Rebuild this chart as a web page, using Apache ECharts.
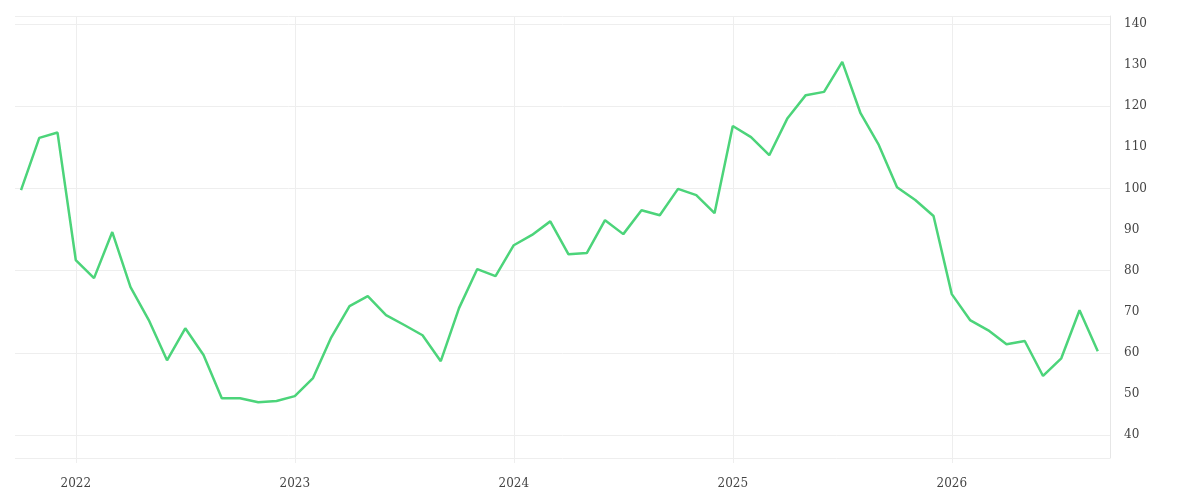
<!DOCTYPE html><html><head><meta charset="utf-8"><script src="https://cdn.jsdelivr.net/npm/echarts@6/dist/echarts.min.js"></script></head><body style="margin:0"><div id="c" style="width:1200px;height:500px"></div><script>
const startYear = 2021, startMonth = 10;
const values = [99.6,112.3,113.6,82.6,78.2,89.4,76,68,58.2,66,59.5,49,49,48,48.3,49.5,53.9,63.8,71.4,73.8,69.2,66.8,64.3,58,70.9,80.4,78.7,86.2,88.7,92,84,84.3,92.3,88.9,94.7,93.5,99.9,98.4,94,115.2,112.5,108.1,117.1,122.7,123.5,130.8,118.3,110.6,100.3,97.2,93.3,74.3,68,65.5,62.1,62.9,54.4,58.7,70.4,60.4];
const yearTicks = [2022,2023,2024,2025,2026];
const data = values.map((v,i)=>[startYear+(startMonth-1+i)/12, v]);
const font = {fontFamily:'DejaVu Serif', fontSize:12, color:'#444'};
echarts.init(document.getElementById('c')).setOption({
 animation:false,
 grid:{left:15,right:90,top:16,bottom:42},
 xAxis:{type:'value',min:2021+8.67/12,max:2026+8.67/12,
  axisLine:{show:false},
  axisTick:{show:true,customValues:yearTicks,lineStyle:{color:'#eee'}},
  axisLabel:Object.assign({customValues:yearTicks,formatter:v=>String(Math.round(v)),margin:20},font),
  splitLine:{show:true,lineStyle:{color:'#eee'}}},
 yAxis:{type:'value',position:'right',min:34.45,max:141.95,
  axisLine:{show:true,lineStyle:{color:'#e6e6e6'}},
  axisTick:{show:false},
  axisLabel:Object.assign({customValues:[40,50,60,70,80,90,100,110,120,130,140],margin:14},font),
  splitLine:{show:true,lineStyle:{color:'#eee'}}},
 series:[{type:'line',data:data,showSymbol:false,lineStyle:{color:'#4cd47a',width:2.5},itemStyle:{color:'#4cd47a'}}]
});
</script></body></html>
